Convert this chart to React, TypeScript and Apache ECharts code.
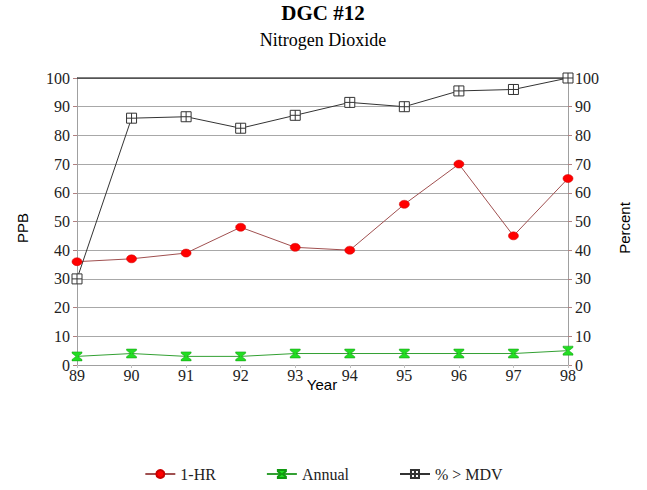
import React, { useEffect, useRef } from "react";
import * as echarts from "echarts";

const years = ["89", "90", "91", "92", "93", "94", "95", "96", "97", "98"];
const oneHr = [36, 37, 39, 48, 41, 40, 56, 70, 45, 65];
const annual = [3, 4, 3, 3, 4, 4, 4, 4, 4, 5];
const pctMdv = [30, 86, 86.5, 82.5, 87, 91.5, 90, 95.5, 96, 100];

const serif = "Times New Roman";
const sans = "Arial";

const hourglass = "path://M0,0 L10,0 L10,1.5 L6,5 L10,8.5 L10,10 L0,10 L0,8.5 L4,5 L0,1.5 Z";
const boxCross = "path://M0,0 L10,0 L10,10 L0,10 Z M5,0 L5,10 M0,5 L10,5";

export default function App() {
  const ref = useRef<HTMLDivElement>(null);
  useEffect(() => {
    document.body.style.margin = "0";
    const chart = echarts.init(ref.current!, null, { renderer: "svg" });
    const labelStyle = { color: "#222", fontFamily: serif, fontSize: 16, fontWeight: "normal" };
    const yAxisBase = {
      type: "value",
      min: 0,
      max: 100,
      interval: 10,
      axisLine: { show: true, lineStyle: { color: "#a0a0a0", width: 1 } },
      axisTick: { show: true, length: 4, lineStyle: { color: "#b08080" } },
      axisLabel: { ...labelStyle, margin: 7 },
    };
    chart.setOption({
      animation: false,
      backgroundColor: "#fff",
      textStyle: { fontFamily: serif },
      graphic: [
        {
          type: "text",
          x: 323,
          y: 13,
          style: { text: "DGC #12", fontFamily: serif, fontWeight: "bold", fontSize: 21, fill: "#000", align: "center", verticalAlign: "middle" },
        },
        {
          type: "text",
          x: 323,
          y: 40,
          style: { text: "Nitrogen Dioxide", fontFamily: serif, fontSize: 18, fill: "#000", align: "center", verticalAlign: "middle" },
        },
        {
          type: "line",
          shape: { x1: 77, y1: 78, x2: 568, y2: 78 },
          style: { stroke: "#000", lineWidth: 1 },
          z: 3,
        },
        {
          type: "text",
          x: 322,
          y: 384,
          style: { text: "Year", fontFamily: sans, fontSize: 15, fill: "#000", align: "center", verticalAlign: "middle" },
        },
        {
          type: "text",
          x: 22,
          y: 228,
          rotation: Math.PI / 2,
          style: { text: "PPB", fontFamily: sans, fontSize: 15, fill: "#000", align: "center", verticalAlign: "middle" },
        },
        {
          type: "text",
          x: 624,
          y: 228,
          rotation: Math.PI / 2,
          style: { text: "Percent", fontFamily: sans, fontSize: 15, fill: "#000", align: "center", verticalAlign: "middle" },
        },
      ],
      grid: { left: 77, right: 79, top: 78, bottom: 125 },
      xAxis: {
        type: "category",
        data: years,
        boundaryGap: false,
        axisLine: { show: true, lineStyle: { color: "#a0a0a0" } },
        axisTick: { show: true, length: 3, lineStyle: { color: "#c0c0c0" } },
        axisLabel: { ...labelStyle, margin: 2 },
      },
      yAxis: [
        {
          ...yAxisBase,
          position: "left",
          splitLine: { show: true, lineStyle: { color: "#a8a8a8", width: 1 } },
        },
        {
          ...yAxisBase,
          position: "right",
          splitLine: { show: false },
        },
      ],
      legend: {
        bottom: 3,
        left: "center",
        itemGap: 50,
        itemWidth: 30,
        itemHeight: 10,
        textStyle: { fontFamily: serif, fontSize: 16, color: "#222" },
        data: ["1-HR", "Annual", "% > MDV"],
      },
      series: [
        {
          name: "1-HR",
          type: "line",
          data: oneHr,
          yAxisIndex: 0,
          symbol: "circle",
          symbolSize: [10, 8],
          lineStyle: { color: "#a05050", width: 1 },
          itemStyle: { color: "#ff0000", borderColor: "#cc0000", borderWidth: 0.5 },
        },
        {
          name: "Annual",
          type: "line",
          data: annual,
          yAxisIndex: 0,
          symbol: hourglass,
          symbolSize: [10, 9],
          lineStyle: { color: "#33a033", width: 1 },
          itemStyle: { color: "#22dd22", borderColor: "#119911", borderWidth: 0.5 },
        },
        {
          name: "% > MDV",
          type: "line",
          data: pctMdv,
          yAxisIndex: 1,
          symbol: boxCross,
          symbolSize: 10,
          lineStyle: { color: "#333", width: 1 },
          itemStyle: { color: "#fff", borderColor: "#333", borderWidth: 1 },
        },
      ],
    });
    return () => chart.dispose();
  }, []);
  return <div ref={ref} style={{ width: 647, height: 490 }} />;
}
